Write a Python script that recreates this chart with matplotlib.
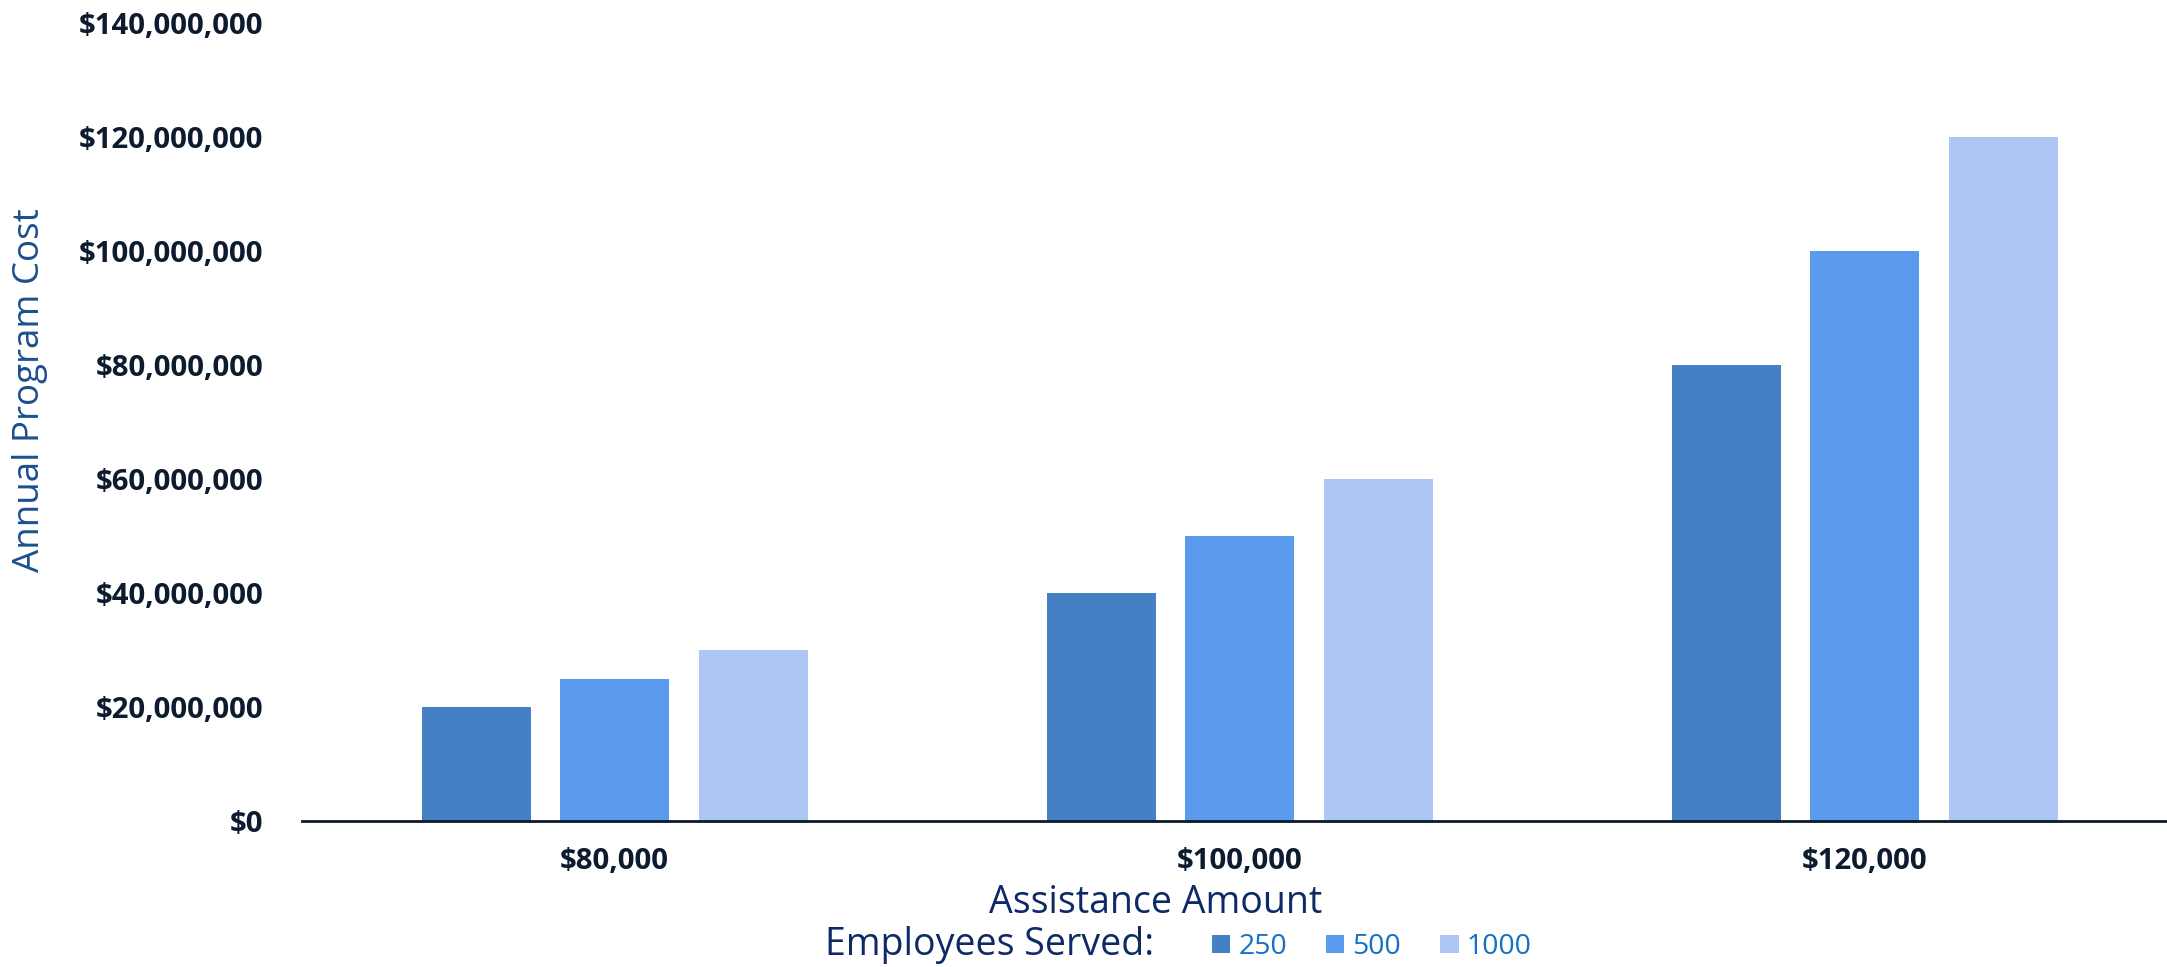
import matplotlib
matplotlib.use("Agg")
import matplotlib.pyplot as plt
import numpy as np
from matplotlib.ticker import FuncFormatter

categories = ["$80,000", "$100,000", "$120,000"]
series_names = ["250", "500", "1000"]
values_250 = [20_000_000, 40_000_000, 80_000_000]
values_500 = [25_000_000, 50_000_000, 100_000_000]
values_1000 = [30_000_000, 60_000_000, 120_000_000]
colors = ["#457fc4", "#5a9bee", "#aec6f4"]

plt.rcParams['font.family'] = ['Open Sans', 'DejaVu Sans']

W, H = 2167, 967
fig = plt.figure(figsize=(W / 100, H / 100), dpi=100)
ax = fig.add_axes([302 / W, (H - 821) / H, (W - 302) / W, (821 - 23) / H])

x = np.arange(len(categories))
width = 0.1744
pitch = 0.2216
handles = []
for i, (vals, name, c) in enumerate(zip([values_250, values_500, values_1000], series_names, colors)):
    b = ax.bar(x + (i - 1) * pitch, vals, width=width, color=c, label=name)
    handles.append(b)

ax.set_xlim(-0.5, 2.484)
ax.set_ylim(0, 140_000_000)
ax.set_yticks(np.arange(0, 140_000_001, 20_000_000))
ax.yaxis.set_major_formatter(FuncFormatter(lambda v, p: f"${v:,.0f}"))
ax.set_xticks(x)
ax.set_xticklabels(categories)

tick_color = "#0d1b2e"
for lab in ax.get_yticklabels() + ax.get_xticklabels():
    lab.set_fontweight("bold")
    lab.set_fontsize(21.2)
    lab.set_color(tick_color)
ax.tick_params(axis="y", length=0, pad=28)
ax.tick_params(axis="x", length=0, pad=19)

for s in ["top", "right", "left"]:
    ax.spines[s].set_visible(False)
ax.spines["bottom"].set_color("#0a1a2a")
ax.spines["bottom"].set_linewidth(2)

fig.text(30 / W, 1 - 390 / H, "Annual Program Cost", rotation=90, ha="center", va="center",
         fontsize=26.5, color="#1b4f8f")
fig.text(1156 / W, 1 - 903 / H, "Assistance Amount", ha="center", va="center",
         fontsize=27, color="#0d2a66")
fig.text(990 / W, 1 - 945 / H, "Employees Served:", ha="center", va="center",
         fontsize=27, color="#0d2a66")

leg = fig.legend(handles=handles, labels=series_names, loc="center left",
                 bbox_to_anchor=(1212 / W, 1 - 947 / H), ncol=3, frameon=False,
                 fontsize=20.5, labelcolor="#1670c8", handlelength=0.64, handleheight=0.64,
                 handletextpad=0.28, columnspacing=1.38, borderpad=0, borderaxespad=0)

fig.savefig("out.png", dpi=100, facecolor="white")
